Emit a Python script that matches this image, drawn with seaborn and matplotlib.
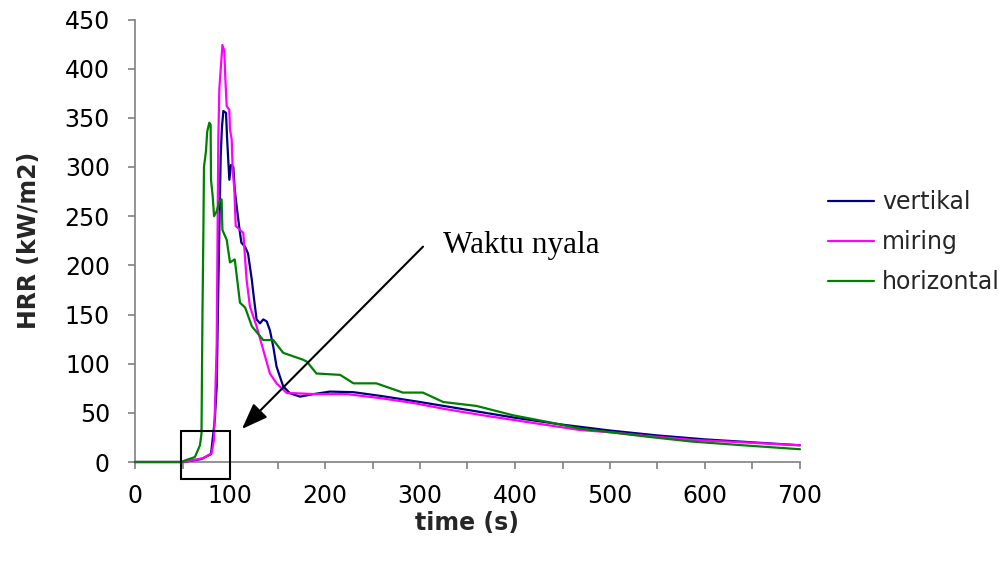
import matplotlib
matplotlib.use("Agg")
import matplotlib.pyplot as plt
import matplotlib.patches as mpatches
import numpy as np
import pandas as pd
import seaborn as sns

# Heat release rate readings (time in s, HRR in kW/m2)
t_vertikal = [0, 50, 70, 80, 84, 86, 87.7, 90.2, 91.5, 93, 95.8, 97, 99.3, 101,
              103.5, 105, 107, 110.5, 112, 115.8, 119, 123, 125, 128, 131.6, 135,
              138.6, 142, 145.6, 149, 156, 163, 173.7, 187.7, 205, 230, 260, 300,
              350, 400, 450, 500, 550, 600, 650, 700]
hrr_vertikal = [0, 0, 3, 8, 43, 77, 178, 311, 340, 357, 355, 328, 287, 302,
                300, 277, 260, 233, 223, 219, 212, 185, 168, 145, 141, 145,
                143, 134, 117, 97, 77, 70, 66.5, 69, 71.6, 71, 67, 61,
                53, 45, 38, 32, 27, 23, 20, 17]

t_miring = [0, 50, 54, 72, 80.7, 83, 84, 86, 87.7, 88.8, 90.2, 92, 94, 95,
            96.5, 99.3, 100, 101.8, 102.8, 104.6, 106, 114, 117.5, 121, 128,
            135, 142, 149, 160, 166.6, 190, 223, 258, 293, 328, 363, 398, 433,
            468, 503, 538.6, 587.7, 640, 700]
hrr_miring = [0, 0, 0.5, 4, 9, 22, 50, 120, 328, 380, 399, 424, 418, 392,
              362, 358, 338, 328, 297, 277, 240, 233, 185, 158, 138,
              114, 90, 80, 70, 70, 69, 69, 65, 60, 53.6, 48, 42.8, 37.7,
              32.6, 30, 26.5, 22.4, 20, 17]

t_horizontal = [0, 50, 51, 63, 68.4, 70, 71, 72, 72.6, 74.7, 76, 78.2, 79.6, 80,
                81.8, 83.2, 86, 88.8, 91.2, 92, 96.5, 100, 105, 110.5, 116, 123,
                135, 145.6, 156, 177, 181, 191, 216, 230, 254, 282, 303, 324.5,
                359.6, 398, 433, 468, 503, 538.6, 587, 640, 700]
hrr_horizontal = [0, 0, 1, 5, 17, 29, 150, 236, 300, 316, 336, 345, 343, 287,
                  270, 250, 255, 265, 267, 236, 226, 203, 206, 162, 157, 138,
                  124, 124, 111, 104, 102, 90, 88.6, 80, 80, 70.6, 70.6, 61,
                  57, 47.5, 41, 34, 30, 25.8, 20.7, 17, 13]

series_names = ["vertikal", "miring", "horizontal"]
series_colors = ["#000080", "#FF00FF", "#008000"]

frames = [
    pd.DataFrame({"time": t_vertikal, "hrr": hrr_vertikal, "posisi": "vertikal"}),
    pd.DataFrame({"time": t_miring, "hrr": hrr_miring, "posisi": "miring"}),
    pd.DataFrame({"time": t_horizontal, "hrr": hrr_horizontal, "posisi": "horizontal"}),
]
data = pd.concat(frames, ignore_index=True)

sns.set_style("white")
plt.rcParams["font.family"] = ["DejaVu Sans"]

fig = plt.figure(figsize=(10.06, 5.62), dpi=100)
ax = fig.add_axes([135 / 1006, 1 - 462 / 562, 665 / 1006, 442.5 / 562])

sns.lineplot(data=data, x="time", y="hrr", hue="posisi", hue_order=series_names,
             palette=series_colors, estimator=None, sort=False, linewidth=1.6,
             ax=ax, legend=True)
for line in ax.lines:
    line.set_clip_on(False)
    line.set_zorder(3)

ax.set_xlim(0, 700)
ax.set_ylim(0, 450)
ax.set_xticks(np.arange(0, 701, 100))
ax.set_xticks(np.arange(50, 701, 100), minor=True)
ax.set_yticks(np.arange(0, 451, 50))

for side in ["top", "right"]:
    ax.spines[side].set_visible(False)
for side in ["left", "bottom"]:
    ax.spines[side].set_color("#808080")
    ax.spines[side].set_linewidth(1.2)
    ax.spines[side].set_zorder(2)

ax.tick_params(axis="both", which="both", direction="out", length=5,
               width=1.2, color="#808080", labelsize=17, labelcolor="black",
               bottom=True, left=True)
ax.tick_params(axis="x", pad=11)
ax.tick_params(axis="y", pad=13)

ax.set_xlabel("time (s)", fontsize=17, fontweight="bold", labelpad=2)
ax.set_ylabel("HRR (kW/m2)", fontsize=17, fontweight="bold", labelpad=17)

handles, labels = ax.get_legend_handles_labels()
ax.legend(handles, labels, loc="center left",
          bbox_to_anchor=(828 / 1006, 1 - 242 / 562),
          bbox_transform=fig.transFigure, frameon=False, fontsize=17,
          handlelength=1.95, handletextpad=0.34, labelspacing=0.68,
          borderpad=0, borderaxespad=0)

# Ignition marker: box around the onset and an arrow with its caption
box = mpatches.Rectangle((48.9, -17.3), 51.1, 48.9, fill=False,
                         edgecolor="black", linewidth=1.5, clip_on=False,
                         zorder=5)
ax.add_patch(box)
ax.annotate("", xy=(112.6, 33.6), xytext=(303.2, 219),
            arrowprops=dict(arrowstyle="-|>,head_length=0.8,head_width=0.3",
                            color="black", lw=1.5, mutation_scale=20,
                            shrinkA=0, shrinkB=0))
ax.text(324.5, 212.5, "Waktu nyala", family="Liberation Serif", fontsize=22.5,
        ha="left", va="baseline", color="black")

fig.savefig("out.png", dpi=100)
